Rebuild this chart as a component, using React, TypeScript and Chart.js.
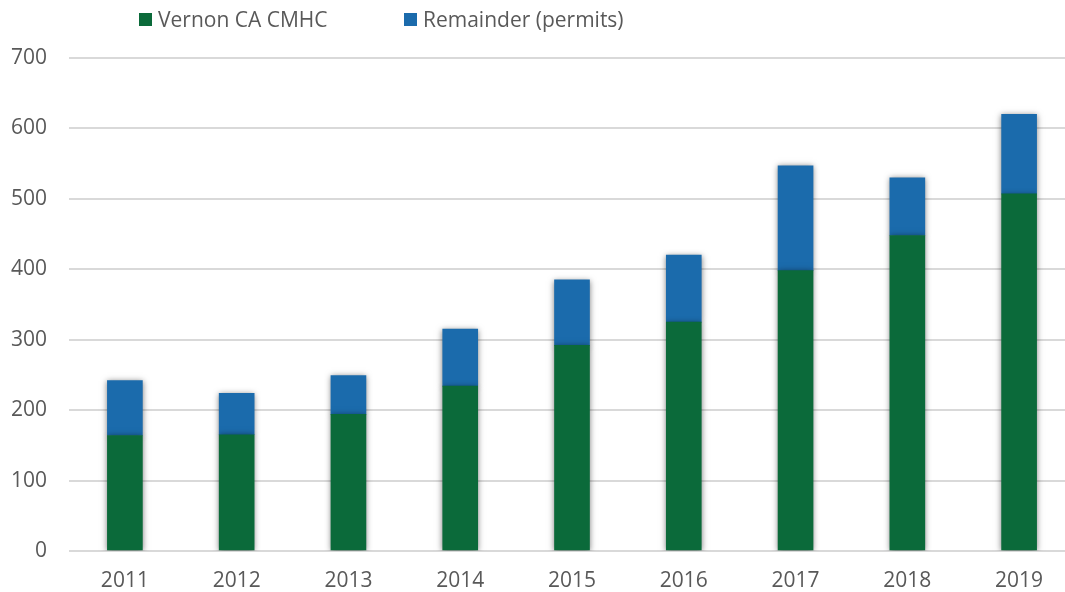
import React, { useEffect, useRef } from "react";
import { Chart, registerables } from "chart.js";

Chart.register(...registerables);

const years = ["2011", "2012", "2013", "2014", "2015", "2016", "2017", "2018", "2019"];
const vernonCmhc = [164, 165, 194, 234, 292, 325, 398, 448, 507];
const remainderPermits = [78, 59, 55, 81, 93, 95, 149, 82, 113];
const yTicks = [0, 100, 200, 300, 400, 500, 600, 700];

const GREEN = "#0B6A3A";
const BLUE = "#1B6BAC";
const TEXT = "#595959";
const FONT = "'Open Sans', 'Noto Sans', sans-serif";

const shadowPlugin = {
  id: "barShadow",
  beforeDatasetDraw(chart: any) {
    const ctx = chart.ctx;
    ctx.save();
    ctx.shadowColor = "rgba(0,0,0,0.5)";
    ctx.shadowBlur = 6;
    ctx.shadowOffsetX = 0;
    ctx.shadowOffsetY = 1;
  },
  afterDatasetDraw(chart: any) {
    chart.ctx.restore();
  },
};

export default function App() {
  const ref = useRef<HTMLCanvasElement | null>(null);
  useEffect(() => {
    document.body.style.margin = "0";
    const chart = new Chart(ref.current!, {
      type: "bar",
      data: {
        labels: years,
        datasets: [
          { label: "Vernon CA CMHC", data: vernonCmhc, backgroundColor: GREEN, barThickness: 35 },
          { label: "Remainder (permits)", data: remainderPermits, backgroundColor: BLUE, barThickness: 35 },
        ],
      },
      options: {
        responsive: false,
        animation: false,
        layout: { padding: { left: 0, top: 58, right: 0, bottom: 0 } },
        plugins: { legend: { display: false }, tooltip: { enabled: false } },
        scales: {
          x: {
            stacked: true,
            grid: { display: false, drawTicks: false },
            border: { display: false },
            ticks: { color: TEXT, font: { family: FONT, size: 21 }, padding: 17 },
            afterFit(scale: any) {
              scale.height = 41;
            },
          },
          y: {
            stacked: true,
            min: 0,
            max: 700,
            afterBuildTicks(axis: any) {
              axis.ticks = yTicks.map((v) => ({ value: v }));
            },
            grid: { color: "#D9D9D9", lineWidth: 2, drawTicks: false },
            border: { display: false },
            ticks: { color: TEXT, font: { family: FONT, size: 21 }, padding: 22 },
            afterFit(scale: any) {
              scale.width = 69;
            },
          },
        },
      },
      plugins: [shadowPlugin],
    });
    return () => chart.destroy();
  }, []);

  const legendItem = (color: string, text: string, left: number) => (
    <div
      style={{
        position: "absolute",
        left,
        top: 4,
        height: 30,
        display: "flex",
        alignItems: "center",
        fontFamily: FONT,
        fontSize: 21,
        color: TEXT,
        whiteSpace: "nowrap",
      }}
    >
      <span style={{ display: "inline-block", width: 13, height: 13, background: color, marginRight: 6 }} />
      {text}
    </div>
  );

  return (
    <div style={{ position: "fixed", left: 0, top: 0, width: 1065, height: 592, overflow: "hidden", background: "#fff" }}>
      <canvas ref={ref} width={1075} height={592} style={{ position: "absolute", left: 0, top: 0 }} />
      {legendItem(GREEN, "Vernon CA CMHC", 139)}
      {legendItem(BLUE, "Remainder (permits)", 404)}
    </div>
  );
}
